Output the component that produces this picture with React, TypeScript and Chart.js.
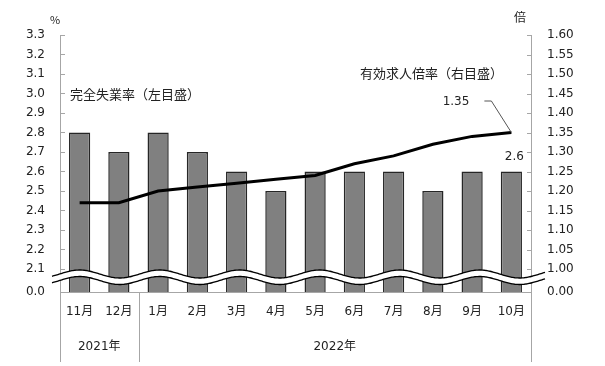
import React, { useEffect, useRef } from "react";
import { Chart, registerables } from "chart.js";

Chart.register(...registerables);

const months = ["11月", "12月", "1月", "2月", "3月", "4月", "5月", "6月", "7月", "8月", "9月", "10月"];
const yearLabels = ["2021年", "2022年"];
const yearSpans = [2, 10];
const unemployment = [2.8, 2.7, 2.8, 2.7, 2.6, 2.5, 2.6, 2.6, 2.6, 2.5, 2.6, 2.6];
const jobRatio = [1.17, 1.17, 1.2, 1.21, 1.22, 1.23, 1.24, 1.27, 1.29, 1.32, 1.34, 1.35];
const leftTicks = [2.1, 2.2, 2.3, 2.4, 2.5, 2.6, 2.7, 2.8, 2.9, 3.0, 3.1, 3.2, 3.3];
const rightTicks = [1.0, 1.05, 1.1, 1.15, 1.2, 1.25, 1.3, 1.35, 1.4, 1.45, 1.5, 1.55, 1.6];
const leftBreakLabel = "0.0";
const rightBreakLabel = "0.00";
const leftMin = 1.98205;
const rightMin = 0.94103;

const NUM_FONT = "'DejaVu Sans', 'Noto Sans CJK JP', sans-serif";
const JP_FONT = "'Noto Sans CJK JP', 'DejaVu Sans', sans-serif";
const TEXT = "#222";
const AXIS = "#a6a6a6";

const decorPlugin = {
  id: "decor",
  afterDatasetsDraw(chart: any) {
    const { ctx, chartArea } = chart;
    const x = chart.scales.x;
    const y = chart.scales.y;
    const y2 = chart.scales.y2;
    const L = chartArea.left, R = chartArea.right, T = chartArea.top, B = chartArea.bottom;
    const bottomEnd = B + 70;
    ctx.save();
    // axis lines
    ctx.strokeStyle = AXIS;
    ctx.lineWidth = 1;
    ctx.beginPath();
    ctx.moveTo(L + 0.5, T); ctx.lineTo(L + 0.5, bottomEnd);
    ctx.moveTo(R + 0.5, T); ctx.lineTo(R + 0.5, bottomEnd);
    ctx.moveTo(L, B + 0.5); ctx.lineTo(R, B + 0.5);
    // year separators
    let idx = 0;
    for (let i = 0; i < yearSpans.length - 1; i++) {
      idx += yearSpans[i];
      const sx = Math.round((x.getPixelForValue(idx - 1) + x.getPixelForValue(idx)) / 2) + 0.5;
      ctx.moveTo(sx, B); ctx.lineTo(sx, bottomEnd);
    }
    // inner ticks
    leftTicks.forEach((v) => {
      const py = Math.round(y.getPixelForValue(v)) + 0.5;
      ctx.moveTo(L, py); ctx.lineTo(L + 5, py);
    });
    rightTicks.forEach((v) => {
      const py = Math.round(y2.getPixelForValue(v)) + 0.5;
      ctx.moveTo(R - 4, py); ctx.lineTo(R, py);
    });
    ctx.stroke();

    // wave break
    const x0 = L - 8, x1 = R + 14;
    const yc = (y.getPixelForValue(leftTicks[0]) + B) / 2 - 6.5;
    const amp = 4, period = 80, phase = x.getPixelForValue(0);
    const gap = 6.5;
    const up = (px: number) => yc - amp * Math.cos((2 * Math.PI * (px - phase)) / period);
    ctx.beginPath();
    ctx.moveTo(x0, up(x0));
    for (let px = x0; px <= x1; px += 1) ctx.lineTo(px, up(px));
    for (let px = x1; px >= x0; px -= 1) ctx.lineTo(px, up(px) + gap);
    ctx.closePath();
    ctx.fillStyle = "#fff";
    ctx.fill();
    ctx.strokeStyle = "#000";
    ctx.lineWidth = 1.3;
    ctx.beginPath();
    for (let px = x0; px <= x1; px += 1) px === x0 ? ctx.moveTo(px, up(px)) : ctx.lineTo(px, up(px));
    ctx.stroke();
    ctx.beginPath();
    for (let px = x0; px <= x1; px += 1) px === x0 ? ctx.moveTo(px, up(px) + gap) : ctx.lineTo(px, up(px) + gap);
    ctx.stroke();

    // year labels
    ctx.fillStyle = TEXT;
    ctx.font = `12px ${NUM_FONT}`;
    ctx.textAlign = "center";
    ctx.textBaseline = "middle";
    let s = 0;
    yearLabels.forEach((lab, i) => {
      const e = s + yearSpans[i] - 1;
      const left = s === 0 ? L : (x.getPixelForValue(s - 1) + x.getPixelForValue(s)) / 2;
      const right = e === months.length - 1 ? R : (x.getPixelForValue(e) + x.getPixelForValue(e + 1)) / 2;
      ctx.fillText(lab, (left + right) / 2, B + 55);
      s += yearSpans[i];
    });

    // units
    ctx.font = `11px ${JP_FONT}`;
    ctx.fillText("%", L - 5, T - 15);
    ctx.font = `12px ${JP_FONT}`;
    ctx.fillText("倍", R - 11, T - 18);

    // series annotations
    ctx.textAlign = "left";
    ctx.font = `13px ${JP_FONT}`;
    ctx.fillText("完全失業率（左目盛）", L + 10, y.getPixelForValue(3.0) + 1);
    ctx.fillText("有効求人倍率（右目盛）", 360, y2.getPixelForValue(1.5) - 1);

    const last = months.length - 1;
    const lx = x.getPixelForValue(last);
    const ly = y2.getPixelForValue(jobRatio[last]);
    ctx.strokeStyle = "#555";
    ctx.lineWidth = 1;
    ctx.beginPath();
    ctx.moveTo(lx, ly);
    ctx.lineTo(lx - 20, ly - 31.5);
    ctx.lineTo(lx - 27, ly - 31.5);
    ctx.stroke();
    ctx.font = `12px ${NUM_FONT}`;
    ctx.textAlign = "right";
    ctx.fillText(jobRatio[last].toFixed(2), lx - 42, ly - 31);
    const by = y.getPixelForValue(unemployment[last]);
    ctx.textAlign = "center";
    ctx.fillText(unemployment[last].toFixed(1), lx + 3, by - 15);
    ctx.restore();
  },
};

export default function App() {
  const ref = useRef<HTMLCanvasElement>(null);
  useEffect(() => {
    document.body.style.margin = "0";
    const chart = new Chart(ref.current as HTMLCanvasElement, {
      type: "bar",
      data: {
        labels: months,
        datasets: [
          {
            type: "line",
            data: jobRatio,
            yAxisID: "y2",
            borderColor: "#000",
            borderWidth: 3,
            pointRadius: 0,
            tension: 0,
            order: 0,
          } as any,
          {
            type: "bar",
            data: unemployment,
            yAxisID: "y",
            backgroundColor: "#808080",
            borderColor: "#262626",
            borderWidth: 1.5,
            barPercentage: 0.54,
            categoryPercentage: 1,
            order: 1,
          },
        ],
      },
      options: {
        responsive: false,
        animation: false,
        layout: { padding: { top: 35, left: 0, right: 0, bottom: 0 } },
        plugins: { legend: { display: false }, tooltip: { enabled: false } },
        scales: {
          x: {
            grid: { display: false, drawTicks: false },
            border: { display: false },
            ticks: { font: { size: 12, family: NUM_FONT }, color: TEXT, padding: 13, maxRotation: 0, autoSkip: false },
            afterFit(scale: any) { scale.height = 74; },
          },
          y: {
            position: "left",
            min: leftMin,
            max: 3.3,
            grid: { display: false, drawTicks: false },
            border: { display: false },
            afterBuildTicks(scale: any) {
              scale.ticks = [leftMin, ...leftTicks].map((v) => ({ value: v }));
            },
            ticks: {
              font: { size: 12, family: NUM_FONT },
              color: TEXT,
              padding: 15,
              callback: (v: any) => (Math.abs(v - leftMin) < 1e-6 ? leftBreakLabel : Number(v).toFixed(1)),
            },
            afterFit(scale: any) { scale.width = 60; },
          },
          y2: {
            position: "right",
            min: rightMin,
            max: 1.6,
            grid: { display: false, drawTicks: false },
            border: { display: false },
            afterBuildTicks(scale: any) {
              scale.ticks = [rightMin, ...rightTicks].map((v) => ({ value: v }));
            },
            ticks: {
              font: { size: 12, family: NUM_FONT },
              color: TEXT,
              padding: 16,
              callback: (v: any) => (Math.abs(v - rightMin) < 1e-6 ? rightBreakLabel : Number(v).toFixed(2)),
            },
            afterFit(scale: any) { scale.width = 74; },
          },
        },
      },
      plugins: [decorPlugin],
    });
    return () => chart.destroy();
  }, []);
  return <canvas ref={ref} width={605} height={366} style={{ display: "block" }} />;
}
